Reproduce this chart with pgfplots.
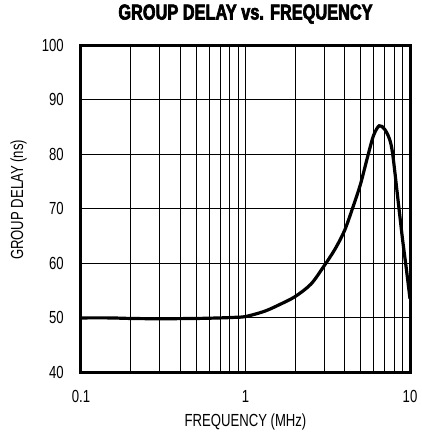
\documentclass[border=0pt]{standalone}
\usepackage{fontspec}
\setmainfont{Liberation Sans}[FakeStretch=0.75]
\newfontfamily\titlefont{Liberation Sans}[FakeStretch=0.76, BoldFeatures={FakeBold=3}]
\newcommand\lblsize{\fontsize{17.5}{19}\selectfont}
\usepackage{pgfplots}
\pgfplotsset{compat=1.18}
\begin{document}
\begin{tikzpicture}
\begin{semilogxaxis}[
  name=ax,
  scale only axis,
  width=329pt, height=327.5pt,
  xmin=0.1, xmax=10,
  ymin=40, ymax=100,
  ytick={40,50,...,100},
  xtick={0.1,1,10},
  xticklabels={0.1,1,10},
  log ticks with fixed point,
  /pgf/number format/assume math mode=true,
  tick style={draw=none},
  grid=both,
  major grid style={black, line width=1pt},
  minor grid style={black, line width=0.7pt},
  axis line style={line width=3pt},
  tick label style={font=\lblsize, inner sep=0pt},
  xticklabel style={anchor=north, yshift=-17.5pt},
  yticklabel style={anchor=east, xshift=-17pt},
  title={\titlefont\bfseries\fontsize{21.5}{23}\selectfont GROUP DELAY vs. FREQUENCY},
  title style={at={(axis description cs:0.5,1)}, anchor=base, yshift=19.5pt},
  xlabel={\lblsize FREQUENCY (MHz)},
  xlabel style={at={(axis description cs:0.5,-0.166)}, anchor=base},
  ylabel={\lblsize GROUP DELAY (ns)},
  ylabel style={at={(axis description cs:-0.19,0.527)}, anchor=center},
]
\addplot[black, line width=3.2pt, smooth, tension=0.5] coordinates {
  (0.1,50.0) (0.15,50.0) (0.2,49.9) (0.3,49.85) (0.5,49.9) (0.7,50.0)
  (0.85,50.1) (1.0,50.25) (1.3,51.2) (1.6,52.4) (2.0,53.9) (2.5,56.2)
  (3.0,59.5) (3.5,62.6) (4.0,66.0) (4.5,70.3) (5.0,74.5) (5.5,79.3)
  (6.0,83.4) (6.5,85.2) (7.0,84.6) (7.5,82.8) (7.85,80.0) (8.5,71.0)
  (9.0,64.5) (9.5,59.0) (10,53.5)
};
\node[rotate=90, anchor=east, inner sep=0pt, text=black!70, font=\fontsize{9.5}{11}\selectfont]
  at ([xshift=6.5pt,yshift=-2pt]rel axis cs:1,1) {MAX7457 toc04};
\end{semilogxaxis}
\pgfresetboundingbox
\path (ax.south west) ++(-81pt,-63.5pt) rectangle ++(421pt,436pt);
\end{tikzpicture}
\end{document}
